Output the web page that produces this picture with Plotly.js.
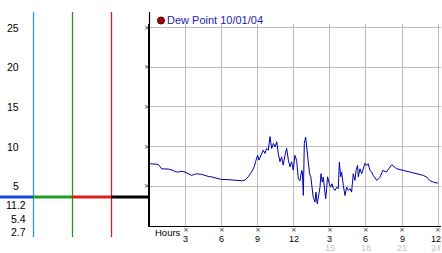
<!DOCTYPE html>
<html><head><meta charset="utf-8">
<script src="https://cdn.plot.ly/plotly-3.0.1.min.js"></script>
<style>html,body{margin:0;padding:0;background:#fff;}#chart{width:442px;height:253px;}</style>
</head><body><div id="chart"></div>
<script>
// ---- data ----
const seriesName = 'Dew Point 10/01/04';
const hours = [0,0.4,0.69,0.97,1.3,1.53,1.94,2.1,2.36,2.6,2.92,3.2,3.47,3.7,3.89,4.3,4.6,4.86,5.1,5.42,5.7,5.97,6.4,6.8,7.1,7.36,7.6,7.92,
  8.19,8.47,8.69,8.8,8.97,9.08,9.3,9.44,9.58,9.72,9.86,10.0,10.14,10.28,10.42,10.56,10.69,10.83,10.97,11.1,11.25,11.39,11.53,11.67,11.8,11.94,
  12.08,12.22,12.36,12.5,12.64,12.7,12.78,12.86,12.97,13.1,13.2,13.3,13.4,13.47,13.6,13.75,13.83,13.94,14.03,14.17,14.25,14.36,14.44,14.53,14.64,14.72,14.8,14.94,
  15.05,15.17,15.28,15.42,15.56,15.69,15.78,15.89,15.97,16.11,16.25,16.39,16.53,16.67,16.8,16.94,17.08,17.17,17.3,17.36,17.5,17.64,17.78,17.92,
  18.06,18.19,18.33,18.47,18.6,18.9,19.17,19.4,19.7,20.14,20.56,21.1,21.67,22.2,22.78,23.06,23.3,23.6,24.0];
const dewPoint = [7.84,7.8,7.76,7.2,7.2,7.17,7.0,6.85,6.79,6.9,6.79,6.6,6.37,6.5,6.58,6.5,6.35,6.24,6.2,6.08,6.0,5.86,5.85,5.82,5.8,5.74,5.7,5.78,
  6.2,6.83,7.46,8.1,8.93,8.3,9.14,9.56,9.14,9.77,9.56,11.25,9.77,10.4,9.98,10.6,9.14,8.1,8.7,7.67,8.93,9.77,8.3,7.46,8.1,7.04,
  8.9,8.26,5.95,5.7,7.0,6.8,3.85,10.4,11.2,9.1,7.84,6.58,6.2,5.32,3.64,3.0,4.26,2.8,3.85,4.9,6.58,5.53,6.15,5.11,3.43,4.7,6.2,5.32,
  4.9,5.32,4.7,4.48,4.9,4.7,8.05,6.2,6.8,5.11,3.85,4.9,4.48,4.7,4.27,6.58,5.74,7.0,7.63,6.2,7.2,6.58,7.4,7.92,
  7.63,7.84,7.0,6.8,6.37,5.74,6.15,7.0,6.79,7.72,7.21,7.0,6.79,6.58,6.37,6.15,5.74,5.53,5.4];
const xTickVals = [3,6,9,12,15,18,21,24];
const xTickText = ['3','6','9','12','3','6','9','12'];
const xTick2Vals = [15,18,21,24];
const xTick2Text = ['15','18','21','24'];
const yTickVals = [5,10,15,20,25];
const yTickText = ['5','10','15','20','25'];
const sideLabels = ['11.2','5.4','2.7'];
const xAxisLabel = 'Hours';

// ---- layout helpers (pixel -> paper) ----
const W = 442, H = 253, T = 24, B = 27;
const PH = H - T - B;
const px = x => x / W;
const py = y => (H - B - y) / PH;
const font = 'Liberation Sans, Arial, sans-serif';

const traces = [
  {x: hours, y: dewPoint, type: 'scatter', mode: 'lines', name: seriesName,
   line: {color: '#0000a8', width: 1}, hoverinfo: 'skip', showlegend: false}
];

const annotations = [];
// small x-shaped tick glyphs
xTickVals.forEach(v => annotations.push({xref: 'x', yref: 'paper', x: v, y: py(230), text: '×',
  showarrow: false, xanchor: 'center', yanchor: 'middle', font: {family: 'DejaVu Sans', size: 7, color: '#333'}}));
yTickVals.forEach(v => annotations.push({xref: 'paper', yref: 'y', x: px(147), y: v, text: '×',
  showarrow: false, xanchor: 'center', yanchor: 'middle', font: {family: 'DejaVu Sans', size: 7, color: '#333'}}));
xTickVals.forEach((v, i) => annotations.push({xref: 'x', yref: 'paper', x: v, y: py(238.5), text: xTickText[i],
  showarrow: false, xanchor: 'center', yanchor: 'middle', xshift: (v === 24 ? -2 : 0),
  font: {family: font, size: 9, color: '#000'}}));
xTick2Vals.forEach((v, i) => annotations.push({xref: 'x', yref: 'paper', x: v, y: py(247.5), text: xTick2Text[i],
  showarrow: false, xanchor: 'center', yanchor: 'middle', xshift: (v === 24 ? -2 : 0),
  font: {family: font, size: 9, color: '#c4c4c4'}}));
annotations.push({xref: 'paper', yref: 'paper', x: px(153), y: py(232), text: xAxisLabel, showarrow: false,
  xanchor: 'left', yanchor: 'middle', font: {family: font, size: 9.5, color: '#000'}});
yTickVals.forEach((v, i) => annotations.push({xref: 'paper', yref: 'y', x: px(21), y: v, text: yTickText[i],
  showarrow: false, xanchor: 'right', yanchor: 'middle', font: {family: font, size: 10.5, color: '#000'}}));
const sideY = [205, 219, 232];
sideLabels.forEach((t, i) => annotations.push({xref: 'paper', yref: 'paper', x: px(28), y: py(sideY[i]), text: t,
  showarrow: false, xanchor: 'right', yanchor: 'middle', font: {family: font, size: 10.5, color: '#000'}}));
annotations.push({xref: 'paper', yref: 'paper', x: px(165), y: py(20), text: seriesName, showarrow: false,
  xanchor: 'left', yanchor: 'middle', font: {family: font, size: 11, color: '#1c1cb0'}});

const shapes = [
  // legend dot
  {type: 'circle', xref: 'paper', yref: 'paper', x0: px(157.5), x1: px(164.5), y0: py(24), y1: py(17),
   fillcolor: '#a00000', line: {color: '#400000', width: 1}},
  // left panel verticals
  {type: 'line', xref: 'paper', yref: 'paper', x0: px(33.5), x1: px(33.5), y0: py(12), y1: py(237), line: {color: '#2c9ad8', width: 1.3}},
  {type: 'line', xref: 'paper', yref: 'paper', x0: px(72.5), x1: px(72.5), y0: py(12), y1: py(237), line: {color: '#1f9a1f', width: 1.3}},
  {type: 'line', xref: 'paper', yref: 'paper', x0: px(111.5), x1: px(111.5), y0: py(12), y1: py(237), line: {color: '#d82020', width: 1.3}},
  // left panel horizontal bar
  {type: 'line', xref: 'paper', yref: 'paper', x0: px(0), x1: px(33), y0: py(197), y1: py(197), line: {color: '#1848e0', width: 3}},
  {type: 'line', xref: 'paper', yref: 'paper', x0: px(33), x1: px(72), y0: py(197), y1: py(197), line: {color: '#20a020', width: 3}},
  {type: 'line', xref: 'paper', yref: 'paper', x0: px(72), x1: px(111), y0: py(197), y1: py(197), line: {color: '#e02020', width: 3}},
  {type: 'line', xref: 'paper', yref: 'paper', x0: px(111), x1: px(150), y0: py(197), y1: py(197), line: {color: '#000', width: 3}},
  // axis line extension above the grid
  {type: 'line', xref: 'paper', yref: 'paper', x0: px(149.5), x1: px(149.5), y0: py(12), y1: py(24), line: {color: '#000', width: 1.2}}
];

const layout = {
  width: W, height: H, margin: {l: 0, r: 0, t: T, b: B},
  paper_bgcolor: '#fff', plot_bgcolor: '#fff', showlegend: false,
  xaxis: {domain: [px(149.5), px(441)], range: [-0.04, 24.25], showgrid: true, gridcolor: '#bdbdbd', gridwidth: 1,
          tickvals: xTickVals, showticklabels: false, ticks: '', zeroline: false,
          showline: true, linecolor: '#000', linewidth: 1.2, fixedrange: true},
  yaxis: {range: [0, PH / 7.94], showgrid: true, gridcolor: '#bdbdbd', gridwidth: 1, tickvals: yTickVals,
          showticklabels: false, ticks: '', zeroline: false, showline: true, linecolor: '#000', linewidth: 1.2, fixedrange: true},
  annotations: annotations, shapes: shapes
};
Plotly.newPlot('chart', traces, layout, {staticPlot: true, displayModeBar: false});
</script></body></html>
